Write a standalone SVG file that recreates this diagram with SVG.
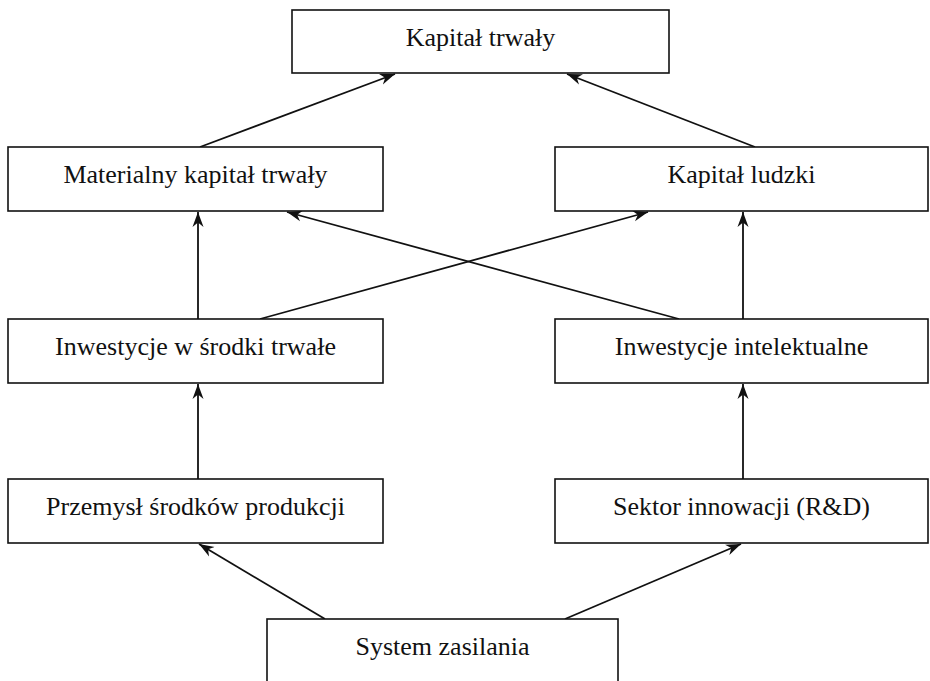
<svg xmlns="http://www.w3.org/2000/svg" width="930" height="681" viewBox="0 0 930 681">
  <defs>
    <marker id="arr" markerWidth="16" markerHeight="12" refX="15" refY="6" orient="auto" markerUnits="userSpaceOnUse">
      <path d="M0,0.5 L15,6 L0,11.5 L4.5,6 z" fill="#111"/>
    </marker>
    <style>
      .box { fill: #fff; stroke: #111; stroke-width: 1.6; }
      .lbl { font-family: "Liberation Serif", "Times New Roman", serif; font-size: 26px; fill: #111; text-anchor: middle; }
      .edge { stroke: #111; stroke-width: 1.8; fill: none; marker-end: url(#arr); }
    </style>
  </defs>
  <rect width="930" height="681" fill="#fff"/>

  <g id="connectors">
    <line class="edge" x1="200" y1="147" x2="395" y2="74"/>
    <line class="edge" x1="755" y1="147" x2="567" y2="74"/>
    <line class="edge" x1="198" y1="319" x2="198" y2="212"/>
    <line class="edge" x1="743" y1="319" x2="743" y2="212"/>
    <line class="edge" x1="260" y1="319" x2="648" y2="212"/>
    <line class="edge" x1="679" y1="319" x2="287" y2="212"/>
    <line class="edge" x1="198" y1="479" x2="198" y2="384"/>
    <line class="edge" x1="743" y1="479" x2="743" y2="384"/>
    <line class="edge" x1="325" y1="619" x2="199" y2="544"/>
    <line class="edge" x1="565" y1="619" x2="741" y2="544"/>
  </g>

  <g id="kapital-trwaly">
    <rect class="box" x="292" y="10" width="377" height="63"/>
    <text class="lbl" x="480.5" y="46">Kapitał trwały</text>
  </g>
  <g id="materialny">
    <rect class="box" x="8" y="147" width="375" height="64"/>
    <text class="lbl" x="195.5" y="183">Materialny kapitał trwały</text>
  </g>
  <g id="kapital-ludzki">
    <rect class="box" x="555" y="147" width="373" height="64"/>
    <text class="lbl" x="741.5" y="183">Kapitał ludzki</text>
  </g>
  <g id="inwestycje-srodki">
    <rect class="box" x="8" y="319" width="375" height="64"/>
    <text class="lbl" x="195.5" y="355">Inwestycje w środki trwałe</text>
  </g>
  <g id="inwestycje-intelektualne">
    <rect class="box" x="555" y="319" width="373" height="64"/>
    <text class="lbl" x="741.5" y="355">Inwestycje intelektualne</text>
  </g>
  <g id="przemysl">
    <rect class="box" x="8" y="479" width="375" height="64"/>
    <text class="lbl" x="195.5" y="515">Przemysł środków produkcji</text>
  </g>
  <g id="sektor">
    <rect class="box" x="555" y="479" width="373" height="64"/>
    <text class="lbl" x="741.5" y="515">Sektor innowacji (R&amp;D)</text>
  </g>
  <g id="system-zasilania">
    <rect class="box" x="267" y="619" width="351" height="70"/>
    <text class="lbl" x="442.5" y="655">System zasilania</text>
  </g>
</svg>
